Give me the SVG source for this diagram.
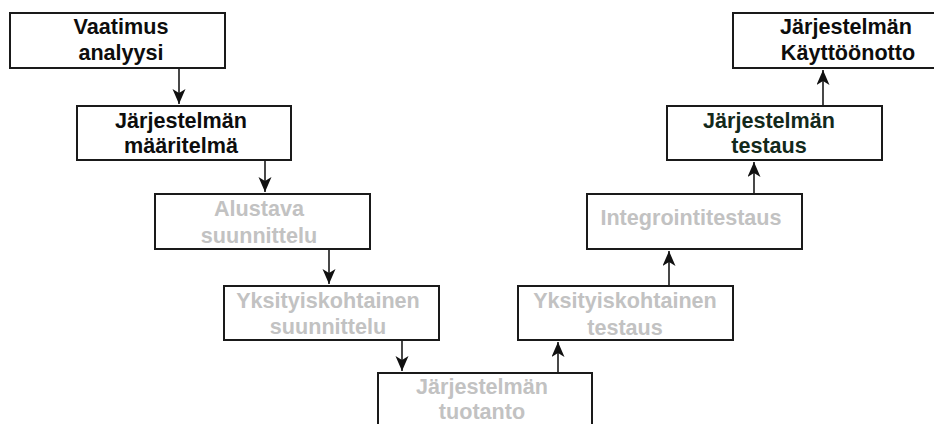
<svg xmlns="http://www.w3.org/2000/svg" width="934" height="424" viewBox="0 0 934 424">
  <defs>
    <marker id="arrow" markerUnits="userSpaceOnUse" markerWidth="16" markerHeight="14" refX="15" refY="6.5" orient="auto">
      <path d="M0,0 L15,6.5 L0,13 L4,6.5 Z" fill="#111"/>
    </marker>
  </defs>
  <style>
    .box { fill: #fff; stroke: #1a1a1a; stroke-width: 2; }
    .t { font-family: "Liberation Sans", Arial, sans-serif; font-weight: bold; font-size: 21.6px; text-anchor: middle; }
    .dark { fill: #0d0d0d; }
    .green { fill: #13291b; }
    .grey { fill: #c2c2c2; }
    .conn { stroke: #1a1a1a; stroke-width: 1.6; fill: none; marker-end: url(#arrow); }
  </style>
  <rect width="934" height="424" fill="#fff"/>

  <g id="connectors">
    <line class="conn" x1="179" y1="68" x2="179" y2="104"/>
    <line class="conn" x1="265" y1="160" x2="265" y2="192"/>
    <line class="conn" x1="329" y1="249" x2="329" y2="284"/>
    <line class="conn" x1="402" y1="340" x2="402" y2="371"/>
    <line class="conn" x1="558" y1="373" x2="558" y2="342"/>
    <line class="conn" x1="669" y1="286" x2="669" y2="251"/>
    <line class="conn" x1="754" y1="194" x2="754" y2="162"/>
    <line class="conn" x1="823" y1="106" x2="823" y2="70"/>
  </g>

  <g id="vaatimus-analyysi">
    <rect class="box" x="10" y="13" width="215" height="55"/>
    <text class="t dark" x="121" y="34">Vaatimus</text>
    <text class="t dark" x="121" y="60">analyysi</text>
  </g>

  <g id="jarjestelman-maaritelma">
    <rect class="box" x="77" y="106" width="214" height="54"/>
    <text class="t dark" x="181" y="128">Järjestelmän</text>
    <text class="t dark" x="181" y="153">määritelmä</text>
  </g>

  <g id="alustava-suunnittelu">
    <rect class="box" x="155" y="194" width="215" height="55"/>
    <text class="t grey" x="259" y="216">Alustava</text>
    <text class="t grey" x="259" y="243">suunnittelu</text>
  </g>

  <g id="yksityiskohtainen-suunnittelu">
    <rect class="box" x="224" y="286" width="215" height="54"/>
    <text class="t grey" x="328" y="308">Yksityiskohtainen</text>
    <text class="t grey" x="328" y="334">suunnittelu</text>
  </g>

  <g id="jarjestelman-tuotanto">
    <rect class="box" x="378" y="373" width="214" height="60"/>
    <text class="t grey" x="482" y="394">Järjestelmän</text>
    <text class="t grey" x="482" y="419">tuotanto</text>
  </g>

  <g id="yksityiskohtainen-testaus">
    <rect class="box" x="518" y="286" width="215" height="54"/>
    <text class="t grey" x="625" y="308">Yksityiskohtainen</text>
    <text class="t grey" x="625" y="335">testaus</text>
  </g>

  <g id="integrointitestaus">
    <rect class="box" x="587" y="194" width="215" height="55"/>
    <text class="t grey" x="691" y="225">Integrointitestaus</text>
  </g>

  <g id="jarjestelman-testaus">
    <rect class="box" x="667" y="106" width="215" height="54"/>
    <text class="t green" x="769" y="128">Järjestelmän</text>
    <text class="t green" x="769" y="153">testaus</text>
  </g>

  <g id="jarjestelman-kayttoonotto">
    <rect class="box" x="733" y="13" width="215" height="55"/>
    <text class="t dark" x="846" y="34">Järjestelmän</text>
    <text class="t dark" x="848" y="60">Käyttöönotto</text>
  </g>
</svg>
